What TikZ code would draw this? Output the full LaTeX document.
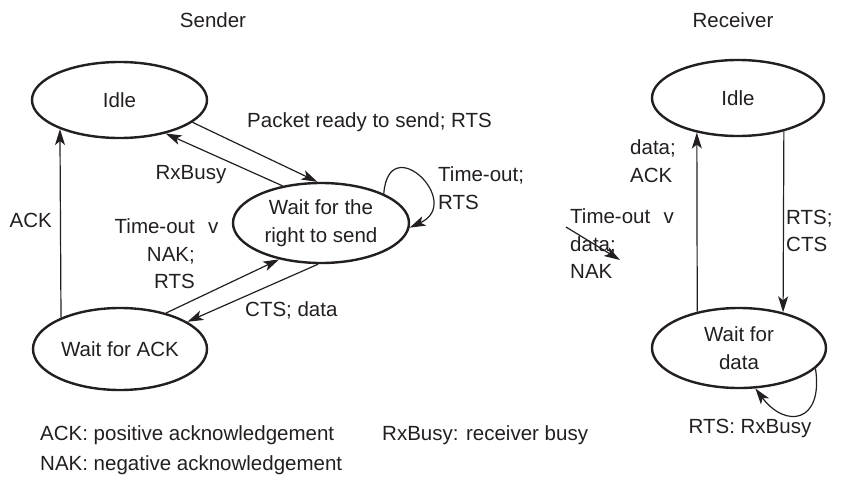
\documentclass[tikz,border=0pt]{standalone}
\usepackage{fontspec}
\setmainfont{Liberation Sans}
\usetikzlibrary{arrows.meta,shapes.geometric}
\definecolor{ink}{HTML}{231F20}
\begin{document}
\begin{tikzpicture}[x=1pt,y=-1pt,
  every node/.style={font=\fontsize{20.5}{27.5}\selectfont, text=ink},
  st/.style={draw=ink, ellipse, line width=2.4pt, inner sep=0pt, align=center},
  arr/.style={draw=ink, -{Stealth[length=16pt,width=10pt,inset=4pt]}, line width=1.2pt},
  lbl/.style={inner sep=0pt, align=left}]
\path[use as bounding box] (0,0) rectangle (841,479);

% states
\node[st, minimum width=175pt, minimum height=76pt] (sIdle) at (119.5,100) {Idle};
\node[st, minimum width=176pt, minimum height=80pt] (sWRS) at (321,223) {Wait for the\\right to send};
\node[st, minimum width=174pt, minimum height=82pt] (sWACK) at (120,349) {Wait for ACK};
\node[st, minimum width=172pt, minimum height=76pt] (rIdle) at (738,98) {Idle};
\node[st, minimum width=174pt, minimum height=80pt] (rWD) at (739,348) {Wait for\\data};

% sender transitions
\draw[arr] (sIdle.-17) -- (sWRS.95);
\draw[arr] (sWRS.136) -- (sIdle.-36);
\draw[arr] (sWACK.152) -- (sIdle.-154);
\draw[arr] (sWACK.38) -- (sWRS.221);
\draw[arr] (sWRS.-94) -- (sWACK.22);
\draw[arr] (sWRS.25) .. controls +(5,-65) and +(55,-25) .. (sWRS.-3);

% receiver transitions
\draw[arr] (rWD.139) -- (rIdle.220);
\draw[arr] (rIdle.-36.5) -- (rWD.39);
\draw[arr] (rWD.-15) .. controls +(8,55) and +(30,40) .. (rWD.-68);
\coordinate (fa) at (566,227);
\coordinate (fb) at (620,260);
\draw[arr] (fa) -- (fb);

% titles
\node[lbl] (tS) at (213,20) {Sender};
\node[lbl] (tR) at (733,20) {Receiver};

% labels
\node[lbl, anchor=west] (lPR) at (247,122) {Packet ready to send; RTS};
\node[lbl] (lRB) at (191,175) {RxBusy};
\node[lbl, anchor=east] (lACK) at (52,220) {ACK};
\node[lbl, align=right, anchor=east] (lTO) at (195,254) {Time-out\rlap{\hspace{0.65em}v}\\NAK;\\RTS};
\node[lbl, anchor=west] (lCTS) at (245,310) {CTS; data};
\node[lbl, anchor=west] (lTOR) at (438,188) {Time-out;\\RTS};
\node[lbl, anchor=west] (lDA) at (630,161) {data;\\ACK};
\node[lbl, anchor=west] (lTOD) at (570,244) {Time-out\hspace{0.65em}v\\data;\\NAK};
\node[lbl, anchor=west] (lRC) at (786,231) {RTS;\\CTS};
\node[lbl] (lRR) at (750,428) {RTS: RxBusy};

% legend
\node[lbl, anchor=west] (g1) at (40,435) {ACK: positive acknowledgement};
\node[lbl, anchor=west] (g2) at (40,465) {NAK: negative acknowledgement};
\node[lbl, anchor=west] (g3) at (382,435) {RxBusy: receiver busy};
\end{tikzpicture}
\end{document}
